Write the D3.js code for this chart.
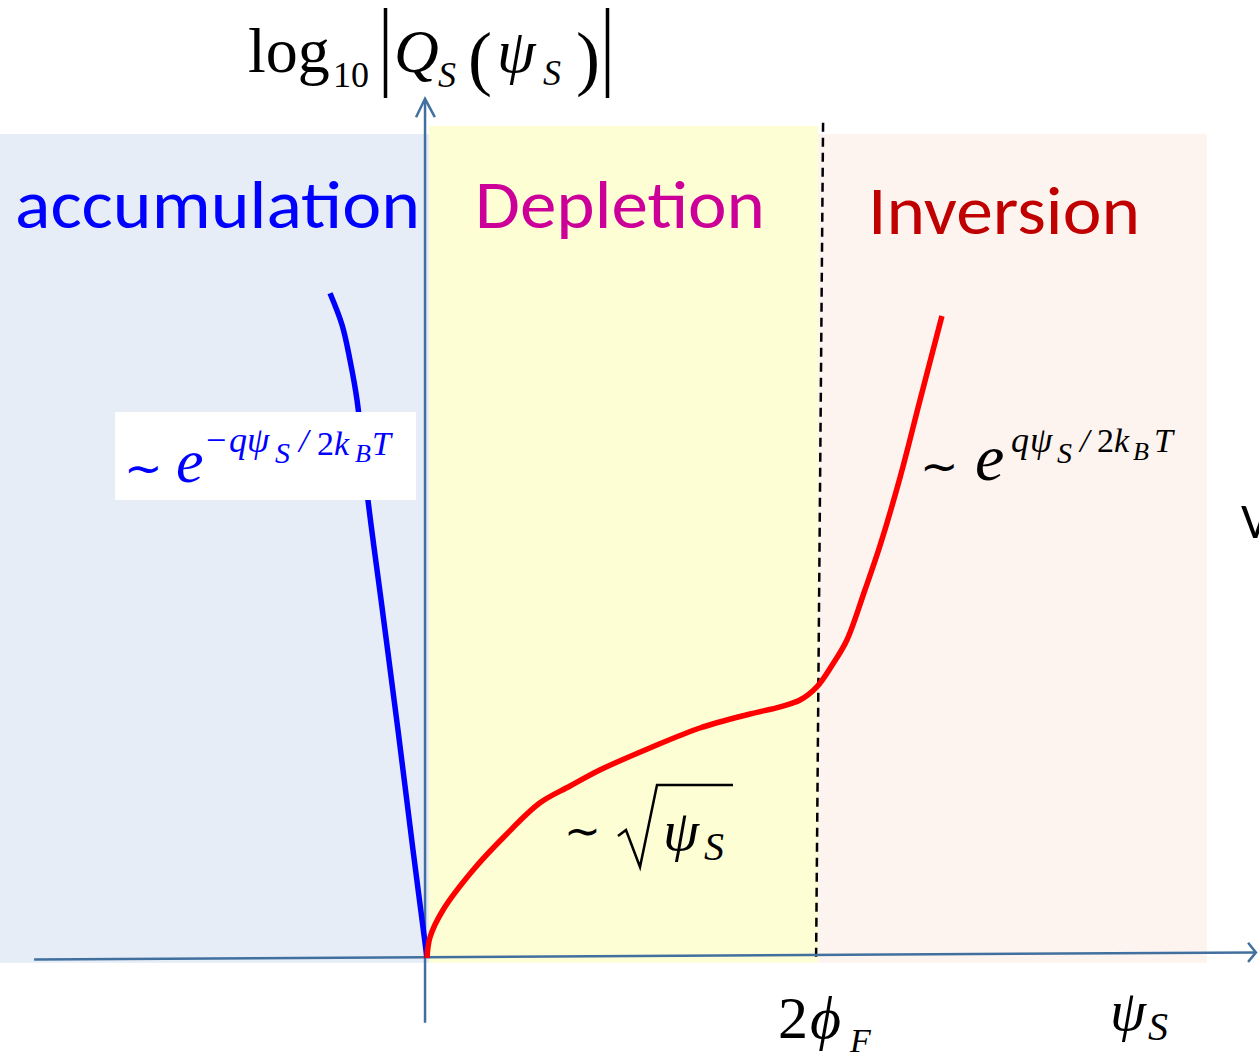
<!DOCTYPE html>
<html>
<head>
<meta charset="utf-8">
<script src="https://cdn.jsdelivr.net/npm/d3@7"></script>
<style>
  html, body { margin: 0; padding: 0; background: #fff; }
  svg { display: block; }
</style>
</head>
<body>
<div id="chart"></div>
<script>
// psi_s in units of 2*phi_F, log10|Qs| in arbitrary units
const regionNames = ['accumulation', 'Depletion', 'Inversion'];
const regionFrom = [-1.092, 0.005, 1.0];
const regionTo = [0.005, 1.0, 1.995];
const regionTop = [1.03, 1.04, 1.03];

const accPsi = [0, -0.0358, -0.0742, -0.1125, -0.151, -0.179, -0.197, -0.217, -0.248];
const accLogQ = [0, 0.135, 0.285, 0.429, 0.5725, 0.6975, 0.7475, 0.791, 0.831];

const invPsi = [0, 0.0077, 0.041, 0.118, 0.199, 0.289, 0.366, 0.442, 0.570, 0.698, 0.826,
  0.903, 0.954, 0.997, 1.036, 1.074, 1.120, 1.159, 1.210, 1.261, 1.317];
const invLogQ = [0, 0.026, 0.06, 0.11, 0.1525, 0.194, 0.215, 0.235, 0.2625, 0.2875, 0.305,
  0.314, 0.3225, 0.339, 0.366, 0.3975, 0.46, 0.516, 0.601, 0.6975, 0.8025];

const W = 1259, H = 1059;

const x = d3.scaleLinear().domain([0, 1]).range([427, 818]);
const y = d3.scaleLinear().domain([0, 1]).range([958, 158]);

const svg = d3.select('#chart').append('svg')
  .attr('width', W)
  .attr('height', H);

// background bands
const fills = ['#e6edf7', '#fefed5', '#fdf4ef'];
svg.selectAll('rect.band')
  .data(regionNames)
  .join('rect')
  .attr('class', 'band')
  .attr('x', (d, i) => x(regionFrom[i]))
  .attr('width', (d, i) => x(regionTo[i]) - x(regionFrom[i]))
  .attr('y', (d, i) => y(regionTop[i]))
  .attr('height', (d, i) => y(-0.006) - y(regionTop[i]))
  .attr('fill', (d, i) => fills[i]);

// region titles
const titleColors = ['#0000ff', '#cc0099', '#c00000'];
const titleX = [15, 475, 868];
const titleY = [228, 228, 234];
const titleLen = [405, 290, 272];
svg.selectAll('text.title')
  .data(regionNames)
  .join('text')
  .attr('class', 'title')
  .attr('x', (d, i) => titleX[i])
  .attr('y', (d, i) => titleY[i])
  .attr('textLength', (d, i) => titleLen[i])
  .attr('lengthAdjust', 'spacingAndGlyphs')
  .style('font-family', 'Carlito, Lato, sans-serif')
  .style('font-size', '68px')
  .attr('fill', (d, i) => titleColors[i])
  .text(d => d);

// dashed 2phi_F line
svg.append('line')
  .attr('x1', x(1.013)).attr('y1', y(1.044))
  .attr('x2', x(0.995)).attr('y2', y(-0.006))
  .attr('stroke', '#000')
  .attr('stroke-width', 2.5)
  .attr('stroke-dasharray', '9,6');

// axes
const axisColor = '#41709f';
svg.append('line')
  .attr('x1', x(-1.005)).attr('y1', y(-0.002))
  .attr('x2', x(2.12)).attr('y2', y(0.007))
  .attr('stroke', axisColor).attr('stroke-width', 2.5);
svg.append('path')
  .attr('d', `M${x(2.1)},${y(0.019)} L${x(2.12)},${y(0.007)} L${x(2.1)},${y(-0.005)}`)
  .attr('fill', 'none').attr('stroke', axisColor).attr('stroke-width', 2.5);

svg.append('line')
  .attr('x1', x(-0.005)).attr('y1', y(-0.081))
  .attr('x2', x(-0.005)).attr('y2', y(1.072))
  .attr('stroke', axisColor).attr('stroke-width', 2.5);
svg.append('path')
  .attr('d', `M${x(-0.028)},${y(1.051)} L${x(-0.005)},${y(1.074)} L${x(0.02)},${y(1.051)}`)
  .attr('fill', 'none').attr('stroke', axisColor).attr('stroke-width', 2.5);

// curves
const line = d3.line()
  .x(d => x(d[0]))
  .y(d => y(d[1]))
  .curve(d3.curveCatmullRom.alpha(0.5));

svg.append('path')
  .datum(d3.zip(accPsi, accLogQ))
  .attr('d', line)
  .attr('fill', 'none')
  .attr('stroke', '#0000ff')
  .attr('stroke-width', 5.5);

svg.append('path')
  .datum(d3.zip(invPsi, invLogQ))
  .attr('d', line)
  .attr('fill', 'none')
  .attr('stroke', '#ff0000')
  .attr('stroke-width', 5.5);

// white box over the accumulation curve, holds its formula
svg.append('rect')
  .attr('x', 115).attr('y', 412)
  .attr('width', 301).attr('height', 88)
  .attr('fill', '#fff');

// math labels, built glyph run by glyph run
function mathText(pieces, color) {
  const g = svg.append('g')
    .style('font-family', '"Liberation Serif", "Times New Roman", serif')
    .attr('fill', color);
  pieces.forEach(p => {
    g.append('text')
      .attr('x', p[1])
      .attr('y', p[2])
      .style('font-size', p[3] + 'px')
      .style('font-style', p[4] ? 'italic' : 'normal')
      .text(p[0]);
  });
  return g;
}

// y-axis title
mathText([
  ['log', 248, 72, 64, 0],
  ['10', 333, 87, 36, 0],
  ['Q', 394, 72, 62, 1],
  ['S', 438, 87, 36, 1],
  ['(', 468, 82, 72, 0],
  ['\u03C8', 497, 72, 62, 1],
  ['S', 543, 85, 36, 1],
  [')', 576, 82, 72, 0]
], '#000');
svg.append('path')
  .attr('d', 'M385.5,8 V98 M607.5,8 V98')
  .attr('stroke', '#000').attr('stroke-width', 3.5);

// ~ exp(-q psi / 2kT)
mathText([
  ['\u223C', 124, 484, 46, 0],
  ['e', 176, 482, 62, 1],
  ['\u2212', 206, 452, 36, 0],
  ['q', 229, 452, 36, 1],
  ['\u03C8', 247, 452, 36, 1],
  ['S', 275, 463, 30, 1],
  ['/', 299, 452, 34, 1],
  ['2', 317, 455, 34, 0],
  ['k', 334, 455, 34, 1],
  ['B', 355, 462, 26, 1],
  ['T', 372, 455, 34, 1]
], '#0000ff');

// ~ exp(q psi / 2kT)
mathText([
  ['\u223C', 920, 482, 46, 0],
  ['e', 975, 480, 66, 1],
  ['q', 1011, 452, 36, 1],
  ['\u03C8', 1030, 452, 36, 1],
  ['S', 1057, 463, 30, 1],
  ['/', 1080, 452, 34, 1],
  ['2', 1097, 452, 34, 0],
  ['k', 1114, 452, 34, 1],
  ['B', 1133, 460, 26, 1],
  ['T', 1154, 452, 34, 1]
], '#000');

// ~ sqrt(psi_s)
mathText([
  ['\u223C', 564, 846, 44, 0],
  ['\u03C8', 663, 850, 58, 1],
  ['S', 704, 860, 40, 1]
], '#000');
svg.append('path')
  .attr('d', 'M618,836 L626,830 L640,867 L657,785 H733')
  .attr('fill', 'none')
  .attr('stroke', '#000')
  .attr('stroke-width', 2.5);

// x-axis labels
mathText([
  ['2', 778, 1038, 60, 0],
  ['\u03D5', 810, 1038, 60, 1],
  ['F', 850, 1052, 34, 1],
  ['\u03C8', 1110, 1030, 58, 1],
  ['S', 1148, 1040, 40, 1]
], '#000');

// stray letter cut at the right edge
svg.append('text')
  .attr('x', 1241).attr('y', 538)
  .style('font-family', 'Carlito, Lato, sans-serif')
  .style('font-size', '50px')
  .attr('fill', '#000')
  .text('V');
</script>
</body>
</html>
